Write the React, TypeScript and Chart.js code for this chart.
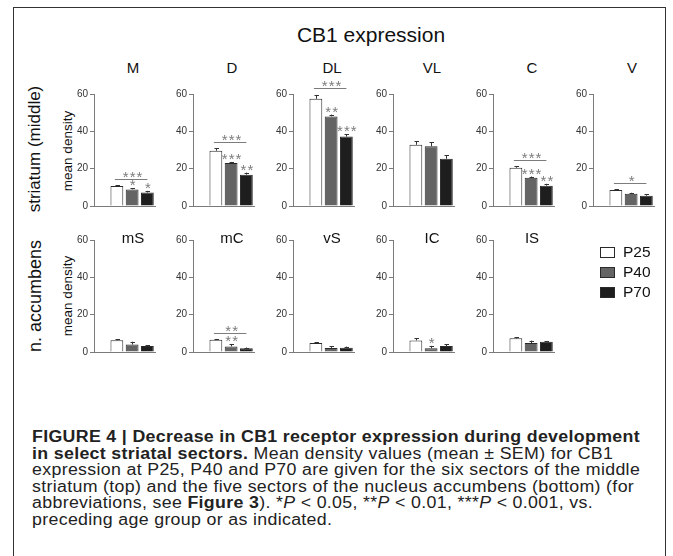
import React, { useEffect, useRef } from "react";
import { Chart, registerables } from "chart.js";

Chart.register(...registerables);

const FONT = '"Liberation Sans", Arial, Helvetica, sans-serif';

// ---------- data ----------
const ageGroups = ["P25", "P40", "P70"];
const ageColors = ["#ffffff", "#646464", "#1e1e1e"];
const yTickMax = 60;
const yTickStep = 20;

const figureTitle = "CB1 expression";
const topRowLabel = "striatum (middle)";
const bottomRowLabel = "n. accumbens";
const yAxisLabel = "mean density";

const sectorsTop = ["M", "D", "DL", "VL", "C", "V"];
const sectorsBottom = ["mS", "mC", "vS", "IC", "IS"];

const valuesM = [10.7, 8.9, 7.2];
const errorsM = [0.5, 0.5, 0.9];
const starsM = ["", "*", "*"];
const bracketM = { value: 14.5, label: "***" };

const valuesD = [29.6, 23.0, 16.8];
const errorsD = [1.3, 0.6, 1.1];
const starsD = ["", "***", "**"];
const bracketD = { value: 34.4, label: "***" };

const valuesDL = [57.4, 48.0, 37.2];
const errorsDL = [2.1, 1.0, 1.2];
const starsDL = ["", "**", "***"];
const bracketDL = { value: 63, label: "***" };

const valuesVL = [32.8, 32.0, 25.3];
const errorsVL = [1.8, 2.3, 1.8];
const starsVL = ["", "", ""];

const valuesC = [20.5, 15.1, 10.9];
const errorsC = [0.7, 0.7, 1.0];
const starsC = ["", "***", "**"];
const bracketC = { value: 24.4, label: "***" };

const valuesV = [8.6, 6.5, 5.5];
const errorsV = [0.4, 0.6, 0.8];
const starsV = ["", "", ""];
const bracketV = { value: 12.5, label: "*" };

const valuesmS = [6.3, 4.0, 3.2];
const errorsmS = [0.4, 1.5, 0.5];
const starsmS = ["", "", ""];

const valuesmC = [6.5, 3.0, 2.0];
const errorsmC = [0.5, 1.3, 0.4];
const starsmC = ["", "**", ""];
const bracketmC = { value: 10.2, label: "**" };

const valuesvS = [4.8, 2.2, 2.3];
const errorsvS = [0.5, 1.0, 0.6];
const starsvS = ["", "", ""];

const valuesIC = [6.2, 2.0, 3.2];
const errorsIC = [1.2, 1.3, 1.0];
const starsIC = ["", "*", ""];

const valuesIS = [7.3, 4.8, 5.5];
const errorsIS = [0.5, 1.3, 0.3];
const starsIS = ["", "", ""];

type Bracket = { value: number; label: string } | null;

const panelsTop = [
  { title: sectorsTop[0], values: valuesM, errors: errorsM, stars: starsM, bracket: bracketM as Bracket },
  { title: sectorsTop[1], values: valuesD, errors: errorsD, stars: starsD, bracket: bracketD as Bracket },
  { title: sectorsTop[2], values: valuesDL, errors: errorsDL, stars: starsDL, bracket: bracketDL as Bracket },
  { title: sectorsTop[3], values: valuesVL, errors: errorsVL, stars: starsVL, bracket: null as Bracket },
  { title: sectorsTop[4], values: valuesC, errors: errorsC, stars: starsC, bracket: bracketC as Bracket },
  { title: sectorsTop[5], values: valuesV, errors: errorsV, stars: starsV, bracket: bracketV as Bracket },
];
const panelsBottom = [
  { title: sectorsBottom[0], values: valuesmS, errors: errorsmS, stars: starsmS, bracket: null as Bracket },
  { title: sectorsBottom[1], values: valuesmC, errors: errorsmC, stars: starsmC, bracket: bracketmC as Bracket },
  { title: sectorsBottom[2], values: valuesvS, errors: errorsvS, stars: starsvS, bracket: null as Bracket },
  { title: sectorsBottom[3], values: valuesIC, errors: errorsIC, stars: starsIC, bracket: null as Bracket },
  { title: sectorsBottom[4], values: valuesIS, errors: errorsIS, stars: starsIS, bracket: null as Bracket },
];

// ---------- layout ----------
const COL_AXIS_X = [94, 193, 293, 393, 493, 593];
const ROW_Y60 = [94, 240];
const ROW_TITLE_Y = [67, 237];
const PAD_L = 4;
const Y_AXIS_W = 30;
const PLOT_W = 61;
const PAD_R = 6;
const PAD_T = 42;
const PLOT_H = 114;
const PAD_B = 6;
const CANVAS_W = PAD_L + Y_AXIS_W + PLOT_W + PAD_R;
const CANVAS_H = PAD_T + PLOT_H + PAD_B;

type PanelProps = {
  title: string;
  values: number[];
  errors: number[];
  stars: string[];
  bracket: Bracket;
  axisX: number;
  y60: number;
  titleY: number;
};

function Panel({ title, values, errors, stars, bracket, axisX, y60, titleY }: PanelProps) {
  const ref = useRef<HTMLCanvasElement>(null);

  useEffect(() => {
    const annotations = {
      id: "sigAnnotations",
      afterDatasetsDraw(chart: any) {
        const ctx = chart.ctx as CanvasRenderingContext2D;
        const meta = chart.getDatasetMeta(0);
        const ys = chart.scales.y;
        ctx.save();
        // error bars
        ctx.strokeStyle = "#333";
        ctx.lineWidth = 1;
        for (let i = 0; i < values.length; i++) {
          const bar = meta.data[i + 1];
          const x = Math.round(bar.x) + 0.5;
          const top = ys.getPixelForValue(values[i] + errors[i]);
          ctx.beginPath();
          ctx.moveTo(x, bar.y);
          ctx.lineTo(x, top);
          ctx.moveTo(x - 2, Math.round(top) + 0.5);
          ctx.lineTo(x + 2.5, Math.round(top) + 0.5);
          ctx.stroke();
        }
        // stars above bars
        ctx.fillStyle = "#7c7c7c";
        ctx.font = `15px ${FONT}`;
        ctx.textAlign = "center";
        ctx.textBaseline = "alphabetic";
        try {
          (ctx as any).letterSpacing = "1px";
        } catch (e) {}
        for (let i = 0; i < values.length; i++) {
          if (!stars[i]) continue;
          const bar = meta.data[i + 1];
          const top = ys.getPixelForValue(values[i] + errors[i]);
          ctx.fillText(stars[i], bar.x + 1, top + 2);
        }
        if (bracket) {
          const yb = Math.round(ys.getPixelForValue(bracket.value)) + 0.5;
          const x1 = meta.data[1].x - 2;
          const x2 = meta.data[3].x;
          ctx.strokeStyle = "#7c7c7c";
          ctx.beginPath();
          ctx.moveTo(x1, yb);
          ctx.lineTo(x2, yb);
          ctx.stroke();
          ctx.fillText(bracket.label, meta.data[2].x + 1, yb + 2.6);
        }
        ctx.restore();
      },
    };

    const chart = new Chart(ref.current as HTMLCanvasElement, {
      type: "bar",
      data: {
        labels: ["", ...ageGroups],
        datasets: [
          {
            data: [null, ...values] as any,
            backgroundColor: ["#fff", ...ageColors],
            borderColor: "#2a2a2a",
            borderWidth: 1,
            barPercentage: 0.84,
            categoryPercentage: 1,
          },
        ],
      },
      options: {
        animation: false,
        responsive: false,
        maintainAspectRatio: false,
        events: [],
        layout: { padding: { left: PAD_L, right: PAD_R, top: PAD_T, bottom: PAD_B } },
        plugins: {
          legend: { display: false },
          tooltip: { enabled: false },
          title: { display: false },
        },
        scales: {
          x: {
            grid: { display: false },
            ticks: { display: false },
            border: { display: true, color: "#7a7a7a", width: 1 },
            afterFit: (s: any) => {
              s.height = 0;
            },
          },
          y: {
            min: 0,
            max: yTickMax,
            ticks: {
              stepSize: yTickStep,
              color: "#333",
              font: { size: 10, family: FONT },
              padding: 2,
            },
            grid: {
              display: true,
              drawOnChartArea: false,
              drawTicks: true,
              tickLength: 4,
              color: "#7a7a7a",
            },
            border: { display: true, color: "#7a7a7a", width: 1 },
            afterFit: (s: any) => {
              s.width = Y_AXIS_W;
            },
          },
        },
      },
      plugins: [annotations],
    });
    return () => chart.destroy();
  }, []);

  return (
    <>
      <div
        style={{
          position: "absolute",
          left: axisX + 39,
          top: titleY,
          transform: "translate(-50%, -50%)",
          font: `15px ${FONT}`,
          color: "#111",
          whiteSpace: "nowrap",
        }}
      >
        {title}
      </div>
      <canvas
        ref={ref}
        width={CANVAS_W}
        height={CANVAS_H}
        style={{
          position: "absolute",
          left: axisX - PAD_L - Y_AXIS_W,
          top: y60 - PAD_T,
          width: CANVAS_W,
          height: CANVAS_H,
        }}
      />
    </>
  );
}

function Rotated({ text, x, y, size }: { text: string; x: number; y: number; size: number }) {
  return (
    <div
      style={{
        position: "absolute",
        left: x,
        top: y,
        transform: "translate(-50%, -50%) rotate(-90deg)",
        font: `${size}px ${FONT}`,
        color: "#111",
        whiteSpace: "nowrap",
      }}
    >
      {text}
    </div>
  );
}

export default function App() {
  const legendRowsY = [252, 272, 292];
  return (
    <div
      style={{
        position: "absolute",
        left: 0,
        top: 0,
        width: 673,
        height: 556,
        overflow: "hidden",
        background: "#fff",
        fontFamily: FONT,
      }}
    >
      <div
        style={{
          position: "absolute",
          left: 13,
          top: 7,
          width: 651,
          height: 600,
          border: "1px solid #333",
        }}
      />
      <div
        style={{
          position: "absolute",
          left: 371,
          top: 35,
          transform: "translate(-50%, -50%)",
          font: `21px ${FONT}`,
          color: "#111",
          whiteSpace: "nowrap",
        }}
      >
        {figureTitle}
      </div>
      <Rotated text={topRowLabel} x={35} y={149} size={17} />
      <Rotated text={yAxisLabel} x={67} y={151} size={13.5} />
      <Rotated text={bottomRowLabel} x={35} y={296} size={18} />
      <Rotated text={yAxisLabel} x={67} y={296} size={13.5} />

      {panelsTop.map((p, i) => (
        <Panel key={p.title} {...p} axisX={COL_AXIS_X[i]} y60={ROW_Y60[0]} titleY={ROW_TITLE_Y[0]} />
      ))}
      {panelsBottom.map((p, i) => (
        <Panel key={p.title} {...p} axisX={COL_AXIS_X[i]} y60={ROW_Y60[1]} titleY={ROW_TITLE_Y[1]} />
      ))}

      {ageGroups.map((g, i) => (
        <React.Fragment key={g}>
          <div
            style={{
              position: "absolute",
              left: 600,
              top: legendRowsY[i] - 5.5,
              width: 13,
              height: 9,
              background: ageColors[i],
              border: "1px solid #2a2a2a",
            }}
          />
          <div
            style={{
              position: "absolute",
              left: 623,
              top: legendRowsY[i],
              transform: "translateY(-50%)",
              font: `15.5px ${FONT}`,
              color: "#111",
              whiteSpace: "nowrap",
            }}
          >
            {g}
          </div>
        </React.Fragment>
      ))}

      <div
        style={{
          position: "absolute",
          left: 32,
          top: 429,
          font: `16px ${FONT}`,
          lineHeight: "16.6px",
          letterSpacing: "0.3px",
          color: "#222",
          whiteSpace: "nowrap",
          transform: "scaleX(1.11)",
          transformOrigin: "0 0",
        }}
      >
        <b>FIGURE 4 | Decrease in CB1 receptor expression during development</b>
        <br />
        <b>in select striatal sectors.</b> Mean density values (mean ± SEM) for CB1
        <br />
        expression at P25, P40 and P70 are given for the six sectors of the middle
        <br />
        striatum (top) and the five sectors of the nucleus accumbens (bottom) (for
        <br />
        abbreviations, see <b>Figure 3</b>). *<i>P</i> &lt; 0.05, **<i>P</i> &lt; 0.01, ***<i>P</i> &lt; 0.001, vs.
        <br />
        preceding age group or as indicated.
      </div>
    </div>
  );
}
